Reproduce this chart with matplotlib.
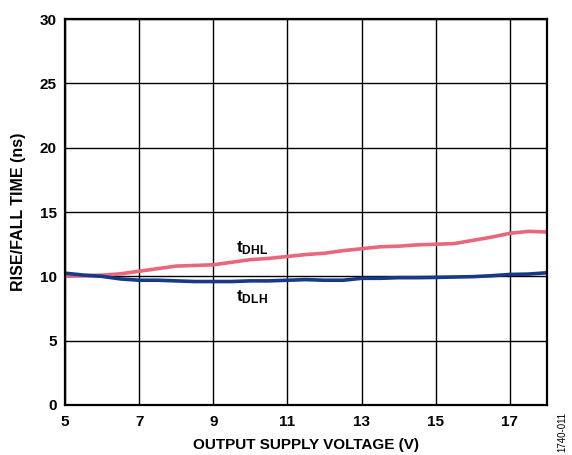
import matplotlib
matplotlib.use("Agg")
import matplotlib.pyplot as plt

plt.rcParams["font.family"] = ["Liberation Sans", "DejaVu Sans"]
plt.rcParams["font.weight"] = "bold"
plt.rcParams["mathtext.fontset"] = "custom"
plt.rcParams["mathtext.rm"] = "Liberation Sans:bold"
plt.rcParams["mathtext.bf"] = "Liberation Sans:bold"
plt.rcParams["mathtext.it"] = "Liberation Sans:bold"

volts = [5, 5.5, 6, 6.5, 7, 7.5, 8, 8.5, 9, 9.5, 10, 10.5, 11, 11.5, 12, 12.5,
         13, 13.5, 14, 14.5, 15, 15.5, 16, 16.5, 17, 17.5, 18]
t_dhl = [10.0, 10.05, 10.1, 10.2, 10.4, 10.6, 10.8, 10.85, 10.9, 11.1, 11.3, 11.4,
         11.55, 11.7, 11.8, 12.0, 12.15, 12.3, 12.35, 12.45, 12.5, 12.55, 12.8,
         13.05, 13.35, 13.5, 13.45]
t_dlh = [10.25, 10.1, 10.0, 9.8, 9.7, 9.7, 9.65, 9.6, 9.6, 9.6, 9.65, 9.65, 9.7,
         9.75, 9.7, 9.7, 9.85, 9.85, 9.9, 9.9, 9.92, 9.95, 9.98, 10.05, 10.15,
         10.18, 10.28]
xticks = [5, 7, 9, 11, 13, 15, 17]
yticks = [0, 5, 10, 15, 20, 25, 30]

fig = plt.figure(figsize=(5.72, 4.55), dpi=100)
ax = fig.add_axes([0.1136, 0.1099, 0.8427, 0.848])

ax.plot(volts, t_dhl, color="#e8677c", lw=2.6, solid_capstyle="round")
ax.plot(volts, t_dlh, color="#173a87", lw=2.6, solid_capstyle="round")

ax.set_xlim(5, 18)
ax.set_ylim(0, 30)
ax.set_xticks(xticks)
ax.set_yticks(yticks)
ax.grid(True, color="black", lw=1.0)
ax.tick_params(axis="x", length=0, labelsize=11, pad=7)
ax.tick_params(axis="y", length=0, labelsize=11, pad=6)
for lab in ax.get_xticklabels() + ax.get_yticklabels():
    lab.set_fontweight("bold")
for s in ax.spines.values():
    s.set_linewidth(1.6)

ax.set_xlabel("OUTPUT SUPPLY VOLTAGE (V)", fontsize=11, fontweight="bold", labelpad=7)
ax.set_ylabel("RISE/FALL TIME (ns)", fontsize=11.5, fontweight="bold", labelpad=10)

ax.text(9.6, 11.9, r"t$_{\mathrm{DHL}}$", fontsize=12.5, fontweight="bold")
ax.text(9.6, 8.1, r"t$_{\mathrm{DLH}}$", fontsize=12.5, fontweight="bold")

fig.text(0.983, 0.007, "1740-011", rotation=90, fontsize=7, fontweight="normal",
         ha="center", va="bottom")

fig.savefig("out.png", dpi=100)
